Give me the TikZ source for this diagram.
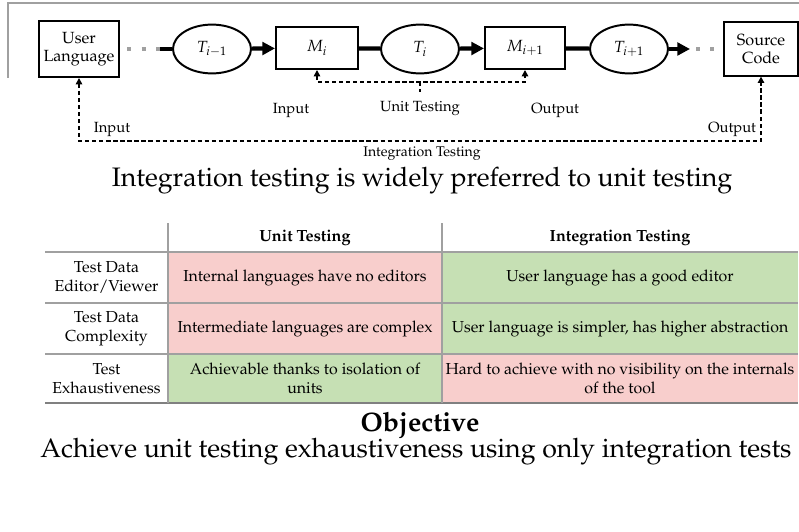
\documentclass[tikz,border=0pt]{standalone}
\usepackage[T1]{fontenc}
\usepackage{mathpazo}
\usepackage{xcolor}
\usepackage{tikz}
\usetikzlibrary{shapes.geometric,arrows.meta,positioning,calc}
\definecolor{pinkcell}{RGB}{248,206,204}
\definecolor{greencell}{RGB}{198,224,180}
\definecolor{rulegray}{RGB}{160,160,160}
\tikzstyle{langbox}=[rectangle, draw=black, line width=1.4pt, align=center,
                      font=\fontsize{11.5}{13}\selectfont]
\tikzstyle{transf} =[ellipse, draw=black, line width=1.4pt, minimum width=1.95cm,
                      minimum height=1.22cm, font=\fontsize{11.5}{13}\selectfont]
\tikzstyle{flow}   =[line width=3pt, -{Triangle[length=9pt,width=9pt]}]
\tikzstyle{link}   =[line width=3pt]
\tikzstyle{dotsline}=[line width=2.8pt, rulegray, dash pattern=on 2.8pt off 7.5pt]
\tikzstyle{testarr}=[line width=1.2pt, dash pattern=on 3pt off 2pt,
                      {Triangle[length=4.5pt,width=4.5pt]}-{Triangle[length=4.5pt,width=4.5pt]}]
\tikzstyle{lbl}    =[font=\fontsize{10.5}{12}\selectfont]
\tikzstyle{cell}   =[rectangle, inner sep=2pt, align=center,
                      font=\fontsize{11.3}{13.2}\selectfont]

\begin{document}
\begin{tikzpicture}[x=0.025cm, y=-0.025cm]
  \useasboundingbox (0,0) rectangle (799,531);

  % ── frame ──────────────────────────────────────────────────────────────────
  \draw[rulegray, line width=1.3pt] (8,78) -- (8,3) -- (799,3);

  % ── chain ──────────────────────────────────────────────────────────────────
  \node[langbox, minimum width=2cm,   minimum height=1.4cm]  (ul)  at (79,49)  {User\\Language};
  \node[transf]                                             (tm1) at (212,49) {$T_{i-1}$};
  \node[langbox, minimum width=2.05cm, minimum height=1.05cm] (mi)  at (317,48) {$M_i$};
  \node[transf]                                             (ti)  at (420,49) {$T_i$};
  \node[langbox, minimum width=2cm,   minimum height=1.05cm] (mi1) at (525,48) {$M_{i+1}$};
  \node[transf]                                             (tp1) at (629,49) {$T_{i+1}$};
  \node[langbox, minimum width=1.85cm, minimum height=1.33cm] (sc)  at (761,49) {Source\\Code};

  \coordinate (dl) at (160,49);
  \coordinate (dr) at (690,49);
  \draw[dotsline] (ul.east) ++(7,0) -- (dl);
  \draw[link] (dl) -- (tm1.west);
  \draw[flow] (tm1) -- (mi);
  \draw[link] (mi)  -- (ti);
  \draw[flow] (ti)  -- (mi1);
  \draw[link] (mi1) -- (tp1);
  \draw[flow] (tp1) -- (dr);
  \draw[dotsline] (dr) ++(6,0) -- (sc.west);

  % ── unit testing ───────────────────────────────────────────────────────────
  \coordinate (ut) at (420,82);
  \draw[testarr] (mi.south) |- (ut) -| (mi1.south);
  \node[lbl] (utl) at (420,108) {Unit Testing};
  \draw[line width=1.2pt, dash pattern=on 3pt off 2pt] (ut) -- ($(utl.north)+(0,-4)$);
  \node[lbl] (uin)  at (291,110) {Input};
  \node[lbl] (uout) at (555,110) {Output};

  % ── integration testing ────────────────────────────────────────────────────
  \coordinate (it) at (420,141);
  \draw[testarr] (ul.south) |- (it) -| (sc.south);
  \node[lbl] (iin)  at (112,129) {Input};
  \node[lbl] (iout) at (732,129) {Output};
  \node[font=\fontsize{10}{11}\selectfont] (itl) at (422,154) {Integration Testing};

  \node[font=\fontsize{19}{22}\selectfont] (claim) at (422,181)
    {Integration testing is widely preferred to unit testing};

  % ── table ──────────────────────────────────────────────────────────────────
  \node[cell, font=\fontsize{11.5}{13}\selectfont\bfseries] (hu) at (305,237.5) {Unit Testing};
  \node[cell, font=\fontsize{11.5}{13}\selectfont\bfseries] (hi) at (620,237.5) {Integration Testing};

  \node[cell] (r1) at (106.5,277.5) {Test Data\\Editor/Viewer};
  \node[cell] (r2) at (106.5,328.5) {Test Data\\Complexity};
  \node[cell] (r3) at (106.5,378.5) {Test\\Exhaustiveness};

  \node[cell, fill=pinkcell,  minimum width=6.85cm, minimum height=1.275cm] (u1) at (305,277.5)
    {Internal languages have no editors};
  \node[cell, fill=greencell, minimum width=8.9cm,  minimum height=1.275cm] (i1) at (620,277.5)
    {User language has a good editor};
  \node[cell, fill=pinkcell,  minimum width=6.85cm, minimum height=1.275cm] (u2) at (305,328.5)
    {Intermediate languages are complex};
  \node[cell, fill=greencell, minimum width=8.9cm,  minimum height=1.275cm] (i2) at (620,328.5)
    {User language is simpler, has higher abstraction};
  \node[cell, fill=greencell, minimum width=6.85cm, minimum height=1.225cm] (u3) at (305,378.5)
    {Achievable thanks to isolation of\\units};
  \node[cell, fill=pinkcell,  minimum width=8.9cm,  minimum height=1.225cm] (i3) at (620,378.5)
    {Hard to achieve with no visibility on the internals\\of the tool};

  \draw[rulegray, line width=0.8pt] (45,252) -- (798,252);
  \draw[rulegray, line width=0.8pt] (45,303) -- (798,303);
  \draw[rulegray, line width=0.8pt] (45,354) -- (798,354);
  \draw[gray, line width=0.9pt] (45,403) -- (798,403);
  \draw[rulegray, line width=0.8pt] (168,223) -- (168,403);
  \draw[rulegray, line width=0.8pt] (442,223) -- (442,403);

  % ── objective ──────────────────────────────────────────────────────────────
  \node[font=\fontsize{19}{22}\selectfont\bfseries] (obj) at (420,425) {Objective};
  \node[font=\fontsize{19}{22}\selectfont] (goal) at (416,452)
    {Achieve unit testing exhaustiveness using only integration tests};

\end{tikzpicture}
\end{document}
